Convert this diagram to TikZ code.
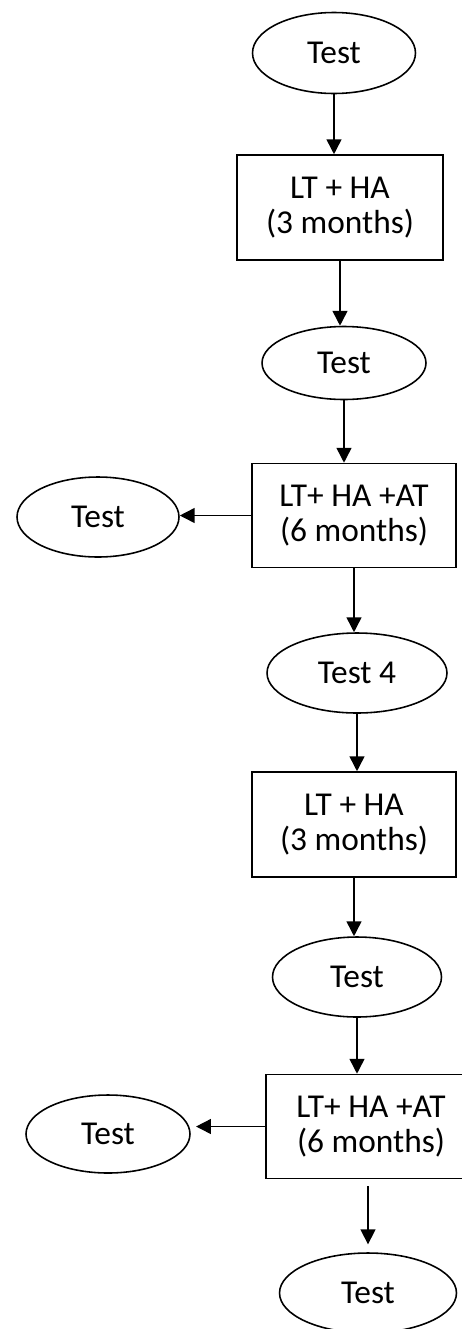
\documentclass[tikz,border=0pt]{standalone}
\usepackage{fontspec}
\setmainfont{Carlito}
\usetikzlibrary{arrows.meta,shapes.geometric}

\begin{document}
\begin{tikzpicture}[x=0.02cm, y=-0.02cm,
    every node/.style = {font=\fontsize{19}{20}\selectfont, line width=0.9pt},
    test/.style = {draw, ellipse, inner sep=0pt, minimum width=3.28cm, minimum height=1.6cm},
    stage/.style = {draw, rectangle, align=center, inner sep=0pt, minimum width=4.08cm, minimum height=2.08cm},
    arr/.style = {line width=0.9pt, -{Triangle[width=8.5pt,length=8.5pt]}}]
            %% Page
            \clip (0,0) rectangle (462,1329);
            %% First round
            \node[test, minimum width=3.26cm, minimum height=1.62cm] (test1) at (334,53) {Test};
            \node[stage, minimum width=4.12cm, minimum height=2.1cm] (stage1) at (340,207.5) {LT + HA\\(3 months)};
            \node[test, minimum height=1.46cm] (test2) at (344,363) {Test};
            \node[stage] (stage2) at (354,515.5) {LT+ HA +AT\\(6 months)};
            \node[test, minimum width=3.24cm] (side1) at (98,517) {Test};
            %% Second round
            \node[test, minimum width=3.6cm] (test4) at (357,673) {Test 4};
            \node[stage, minimum height=2.1cm] (stage3) at (354,824.5) {LT + HA\\(3 months)};
            \node[test, minimum width=3.38cm] (test5) at (357,977) {Test};
            \node[stage, minimum width=4.2cm] (stage4) at (371,1126.5) {LT+ HA +AT\\(6 months)};
            \node[test, minimum height=1.56cm] (side2) at (108,1134) {Test};
            \node[test, minimum width=3.54cm] (test6) at (368,1293) {Test};
            %% Arrows
            \draw[arr] (test1.south) -- (test1.south |- stage1.north);
            \draw[arr] (stage1.south) -- (stage1.south |- test2.north);
            \draw[arr] (test2.south) -- (test2.south |- stage2.north);
            \draw[arr] (stage2.west) -- (stage2.west -| side1.east);
            \draw[arr] (stage2.south) -- (stage2.south |- test4.north);
            \draw[arr] (test4.south) -- (test4.south |- stage3.north);
            \draw[arr] (stage3.south) -- (stage3.south |- test5.north);
            \draw[arr] (test5.south) -- (test5.south |- stage4.north);
            \draw[arr, shorten >=3pt] (stage4.west) -- (stage4.west -| side2.east);
            \draw[arr, shorten <=4pt, shorten >=4.5pt] (stage4.south -| test6.north) -- (test6.north);
\end{tikzpicture}
\end{document}
